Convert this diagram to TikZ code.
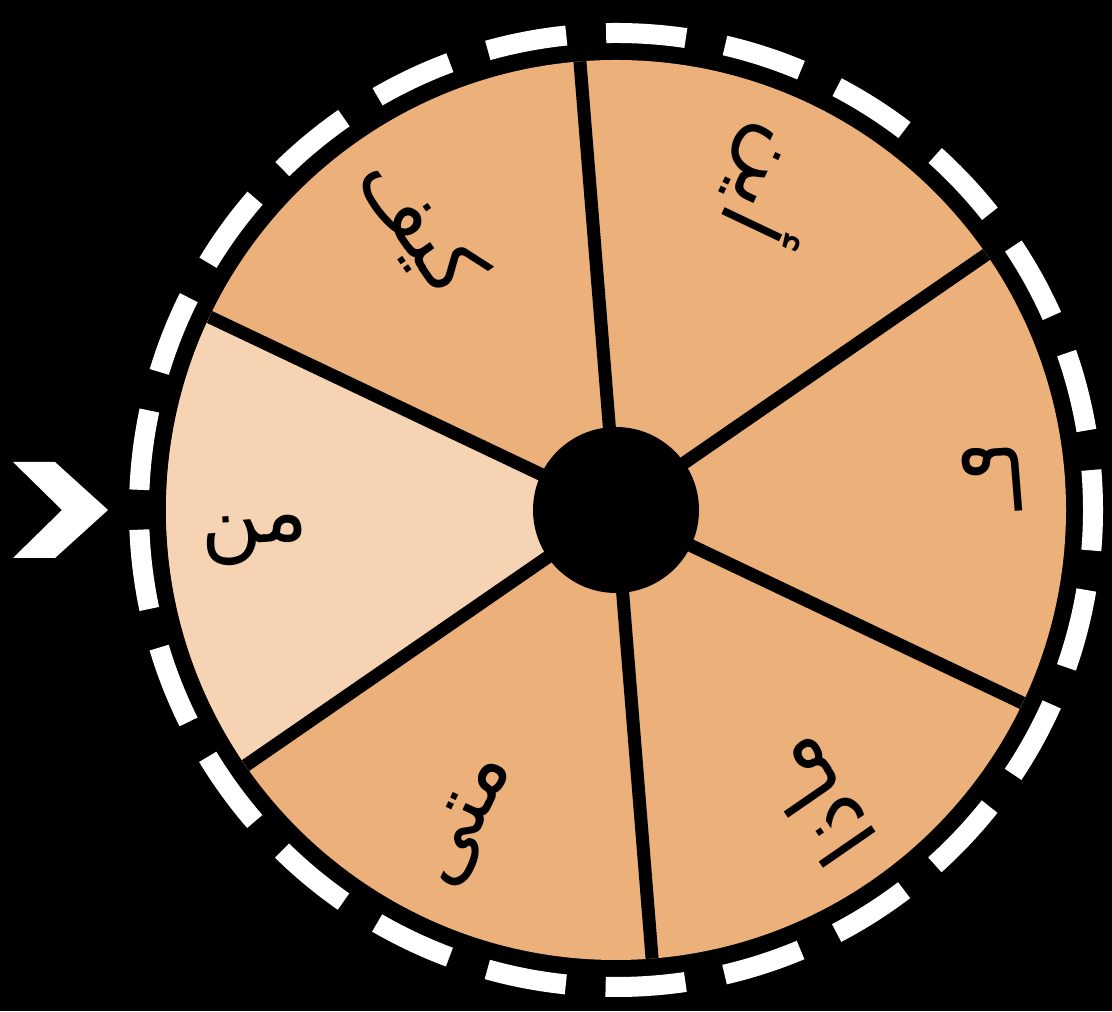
\documentclass[tikz,border=0pt]{standalone}
\usepackage{fontspec}
\TeXXeTstate=1
\newfontfamily\arabicfont[Script=Arabic]{DejaVu Sans}
\usetikzlibrary{calc}
\definecolor{wedgeorange}{RGB}{236,176,122}
\definecolor{wedgelight}{RGB}{246,211,178}
\tikzset{
  divider/.style={black, line width=6.5pt},
  ring/.style={white, line width=10pt, dash pattern=on 40pt off 19.94pt, dash phase=20pt},
  word/.style={font=\arabicfont\fontsize{42}{50}\selectfont, text=black, inner sep=0pt},
}
\begin{document}
\begin{tikzpicture}[x=0.5pt,y=0.5pt]
\useasboundingbox[fill=black] (0,0) rectangle (1112,1011);
\coordinate (c) at (616,501);
% disk
\fill[wedgeorange] (c) circle[radius=450];
\fill[wedgelight] (c) -- ++(154.6:450) arc[start angle=154.6, end angle=214.6, radius=450] -- cycle;
% dividers
\foreach \a in {34.6,94.6,154.6,214.6,274.6,334.6}{
  \draw[divider] (c) -- ++(\a:450);
}
% hub
\fill[black] (c) circle[radius=83];
% dashed ring
\draw[ring] (c) circle[radius=477];
% words
\node[word, rotate=184.6] (w1) at ($(c)+(4.6:378)$) {\beginR ما\endR};
\node[word, rotate=244.6] (w2) at ($(c)+(64.6:360)$) {\beginR أين\endR};
\node[word, rotate=304.6] (w3) at ($(c)+(124.6:345)$) {\beginR كيف\endR};
\node[word, rotate=4.6] (w4) at ($(c)+(184.6:362)$) {\beginR من\endR};
\node[word, rotate=64.6] (w5) at ($(c)+(244.6:345)$) {\beginR متى\endR};
\node[word, rotate=124.6] (w6) at ($(c)+(304.6:355)$) {\beginR ماذا\endR};
% pointer
\fill[white] (13,549) -- (55,549) -- (108,501) -- (55,453) -- (13,453) -- (62,501) -- cycle;
\end{tikzpicture}
\end{document}
